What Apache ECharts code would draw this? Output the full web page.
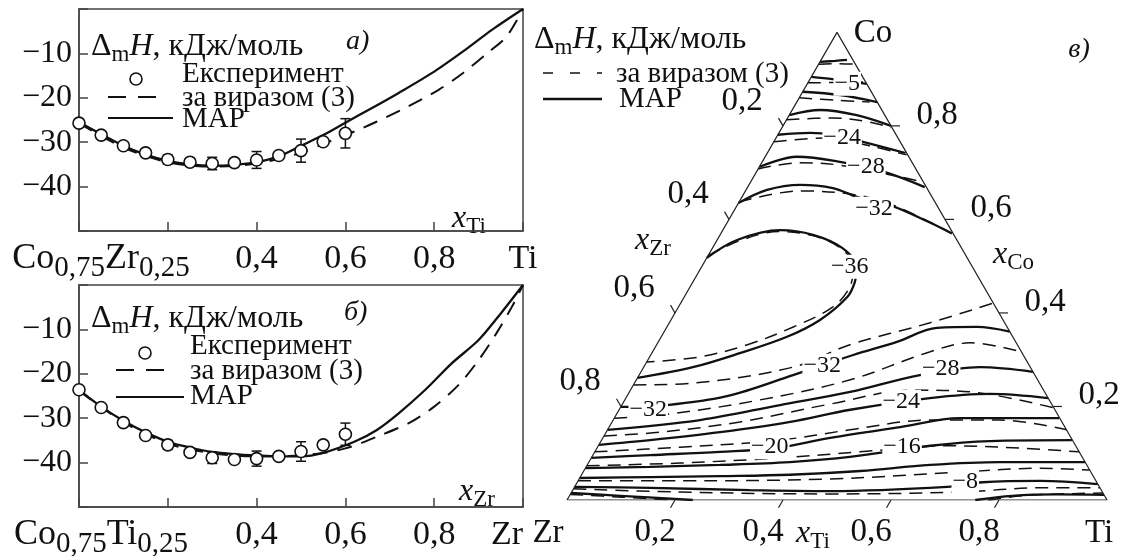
<!DOCTYPE html>
<html><head><meta charset="utf-8">
<script src="https://cdn.jsdelivr.net/npm/echarts@6/dist/echarts.min.js"></script>
<style>html,body{margin:0;padding:0;background:#fff}#c{width:1127px;height:556px}</style>
</head><body><div id="c"></div>
<script>
// ===== Panel a) Co0,75Zr0,25 – Ti =====
const xTicks = [0, 0.2, 0.4, 0.6, 0.8, 1];
const aXLabels = ['Co0,75Zr0,25', '', '0,4', '0,6', '0,8', 'Ti'];
const bXLabels = ['Co0,75Ti0,25', '', '0,4', '0,6', '0,8', 'Zr'];
const yTicks = [-10, -20, -30, -40];

const aExpX = [0, 0.05, 0.1, 0.15, 0.2, 0.25, 0.3, 0.35, 0.4, 0.45, 0.5, 0.55, 0.6];
const aExpY = [-25.7, -28.4, -30.8, -32.4, -33.9, -34.5, -34.8, -34.6, -34.0, -33.0, -31.9, -29.9, -28.0];
const aExpErr = [0, 0, 0, 0, 1.0, 0, 1.4, 0, 1.9, 0, 2.6, 0, 3.3];
const aMapX = [0, 0.05, 0.1, 0.15, 0.2, 0.25, 0.3, 0.35, 0.4, 0.45, 0.5, 0.55, 0.6, 0.66, 0.72, 0.8, 0.87, 0.93, 1];
const aMapY = [-25.5, -28.2, -30.8, -32.8, -34.2, -35.0, -35.3, -35.1, -34.5, -33.2, -30.8, -28.4, -25.6, -22.3, -18.9, -14.1, -9.2, -4.7, 0];
const aEqX = [0, 0.1, 0.2, 0.3, 0.4, 0.5, 0.55, 0.62, 0.67, 0.74, 0.81, 0.865, 0.92, 0.963, 1];
const aEqY = [-25.7, -31.2, -34.5, -35.5, -34.8, -32.4, -30.4, -27.6, -25.4, -22.0, -18.2, -14.4, -9.9, -6.2, 0];

// ===== Panel б) Co0,75Ti0,25 – Zr =====
const bExpX = [0, 0.05, 0.1, 0.15, 0.2, 0.25, 0.3, 0.35, 0.4, 0.45, 0.5, 0.55, 0.6];
const bExpY = [-23.6, -27.6, -31.0, -33.9, -36.0, -37.7, -38.9, -39.3, -39.1, -38.6, -37.5, -36.0, -33.6];
const bExpErr = [0, 0, 0, 0, 1.0, 0, 1.3, 0, 1.7, 0, 2.2, 0, 2.5];
const bMapX = [0, 0.05, 0.1, 0.15, 0.2, 0.25, 0.3, 0.35, 0.4, 0.45, 0.5, 0.55, 0.62, 0.67, 0.72, 0.78, 0.84, 0.9, 0.95, 1];
const bMapY = [-23.6, -27.4, -30.6, -33.2, -35.3, -36.6, -37.6, -38.1, -38.4, -38.6, -38.6, -37.8, -35.3, -32.7, -28.9, -23.6, -17.6, -12.4, -6.4, 0];
const bEqX = [0, 0.1, 0.2, 0.3, 0.4, 0.5, 0.6, 0.68, 0.745, 0.8, 0.855, 0.9, 0.94, 0.975, 1];
const bEqY = [-23.8, -30.9, -35.7, -37.9, -38.6, -38.4, -36.8, -33.8, -31.0, -27.4, -22.5, -16.9, -10.9, -4.9, 0];

// ===== Panel в) ternary Co–Zr–Ti; points are [xTi, xCo] =====
const ternCorners = [[0, 0], [1, 0], [0, 1], [0, 0]];
const ternTicks = [0.2, 0.4, 0.6, 0.8];
const ternTickLabels = ['0,2', '0,4', '0,6', '0,8'];
// Co-rich region
const mapU1 = [[0, 0.937], [0.027, 0.939], [0.048, 0.941]];
const eqU1 = [[0, 0.932], [0.035, 0.933], [0.066, 0.932]];
const mapU2 = [[0, 0.905], [0.042, 0.900], [0.110, 0.890]];
const eqU2 = [[0, 0.892], [0.05, 0.893], [0.105, 0.894]];
const mapU3 = [[0, 0.873], [0.073, 0.866], [0.149, 0.851]];
const eqU3 = [[0, 0.860], [0.07, 0.855], [0.135, 0.851]];
const mapU4 = [[0, 0.823], [0.052, 0.834], [0.125, 0.823], [0.2, 0.8]];
const eqU4 = [[0, 0.813], [0.084, 0.817], [0.157, 0.808], [0.202, 0.796]];
const mapU24 = [[0, 0.781], [0.058, 0.785], [0.102, 0.781], [0.165, 0.766], [0.256, 0.742]];
const eqU24 = [[0, 0.766], [0.094, 0.774], [0.183, 0.757], [0.26, 0.738]];
const mapU28 = [[0, 0.712], [0.059, 0.734], [0.144, 0.723], [0.235, 0.702], [0.328, 0.669]];
const eqU28 = [[0, 0.708], [0.071, 0.721], [0.147, 0.716], [0.271, 0.691], [0.318, 0.68]];
const mapU32 = [[0, 0.635], [0.039, 0.663], [0.095, 0.674], [0.159, 0.667], [0.213, 0.648], [0.29, 0.628], [0.369, 0.596], [0.428, 0.57]];
const eqU32 = [[0, 0.637], [0.101, 0.661], [0.211, 0.652], [0.298, 0.627], [0.425, 0.571]];
const map36 = [[0, 0.518], [0.037, 0.556], [0.106, 0.577], [0.172, 0.567], [0.24, 0.539], [0.288, 0.498], [0.3, 0.466], [0.302, 0.434], [0.276, 0.385], [0.233, 0.349], [0.163, 0.314], [0.091, 0.284], [0, 0.261]];
const eq36 = [[0, 0.522], [0.04, 0.553], [0.106, 0.574], [0.17, 0.566], [0.235, 0.54], [0.28, 0.5], [0.296, 0.456], [0.286, 0.413], [0.234, 0.37], [0.168, 0.332], [0.093, 0.306], [0, 0.295]];
// Co-poor region
const mapL32 = [[0, 0.199], [0.084, 0.203], [0.185, 0.222], [0.285, 0.267], [0.375, 0.31], [0.442, 0.338], [0.501, 0.368], [0.574, 0.37], [0.64, 0.36]];
const eqL32 = [[0, 0.246], [0.108, 0.25], [0.276, 0.284], [0.358, 0.332], [0.483, 0.379], [0.579, 0.421]];
const mapL28 = [[0, 0.15], [0.161, 0.171], [0.293, 0.203], [0.409, 0.231], [0.52, 0.267], [0.623, 0.284], [0.726, 0.274]];
const eqL28 = [[0, 0.175], [0.099, 0.184], [0.25, 0.214], [0.396, 0.257], [0.514, 0.317], [0.578, 0.336], [0.683, 0.317]];
const mapL24 = [[0, 0.118], [0.09, 0.128], [0.211, 0.145], [0.33, 0.167], [0.428, 0.193], [0.563, 0.218], [0.67, 0.227], [0.782, 0.218]];
const eqL24 = [[0, 0.137], [0.1, 0.145], [0.237, 0.167], [0.384, 0.205], [0.523, 0.235], [0.65, 0.229], [0.803, 0.197]];
const mapL20 = [[0, 0.09], [0.106, 0.096], [0.232, 0.103], [0.33, 0.111], [0.421, 0.133], [0.539, 0.156], [0.64, 0.175], [0.824, 0.175]];
const eqL20 = [[0, 0.103], [0.153, 0.113], [0.33, 0.128], [0.449, 0.15], [0.587, 0.171], [0.716, 0.171], [0.85, 0.15]];
const mapL16 = [[0, 0.068], [0.118, 0.071], [0.246, 0.075], [0.372, 0.081], [0.478, 0.092], [0.615, 0.116], [0.72, 0.126], [0.871, 0.128]];
const eqL16 = [[0, 0.073], [0.17, 0.079], [0.35, 0.09], [0.491, 0.103], [0.652, 0.116], [0.783, 0.111], [0.897, 0.103]];
const mapL12 = [[0, 0.047], [0.129, 0.049], [0.258, 0.051], [0.386, 0.054], [0.512, 0.062], [0.635, 0.075], [0.761, 0.081], [0.919, 0.081]];
const eqL12 = [[0, 0.041], [0.189, 0.041], [0.465, 0.045], [0.703, 0.06], [0.842, 0.068], [0.936, 0.064]];
const mapL8 = [[0, 0.028], [0.141, 0.026], [0.328, 0.021], [0.477, 0.019], [0.69, 0.028], [0.751, 0.038], [0.856, 0.041], [0.966, 0.034]];
const eqL8 = [[0, 0.024], [0.2, 0.017], [0.48, 0.013], [0.719, 0.017], [0.863, 0.026], [0.974, 0.026]];
const mapL4a = [[0, 0.015], [0.094, 0.009], [0.233, 0]];
const mapL4b = [[0.756, 0], [0.82, 0.009], [0.9, 0.012], [0.989, 0.011]];
const eqL4a = [[0, 0.012], [0.1, 0.006], [0.2, 0]];
const eqL4b = [[0.78, 0], [0.85, 0.01], [0.985, 0.015]];
const contourLabels = [
  ['−5', 0.074, 0.890], ['−24', 0.122, 0.775], ['−28', 0.197, 0.713], ['−32', 0.257, 0.623],
  ['−36', 0.274, 0.499], ['−32', 0.329, 0.287], ['−32', 0.054, 0.193], ['−28', 0.552, 0.280],
  ['−24', 0.514, 0.210], ['−20', 0.319, 0.113], ['−16', 0.564, 0.113], ['−8', 0.718, 0.039]
];

// ===== build =====
const FONT = '"Liberation Serif", "Times New Roman", serif';
const INK = '#111';
const S3 = Math.sqrt(3) / 2;
function tern(p) { return [p[0] + p[1] / 2, p[1] * S3]; }
function zip(xs, ys) { return xs.map((x, i) => [x, ys[i]]); }
function richX(t, first) {
  if (!t) return '';
  if (/\d,\d+/.test(t) && /[A-Z]/.test(t)) {
    return '{p| }' + t.replace(/([A-Z][a-z]?)(\d,\d+)/g, '{m|$1}{s|$2}');
  }
  return '{n|' + t + '}';
}
const axisRich = {
  m: { fontSize: 36, fontFamily: FONT, color: INK, lineHeight: 44 },
  n: { fontSize: 34, fontFamily: FONT, color: INK, lineHeight: 44 },
  s: { fontSize: 29, fontFamily: FONT, color: INK, lineHeight: 26, padding: [18, 0, 0, 0] },
  p: { width: 44, fontSize: 10 }
};
function xAxisCfg(gi, labels, alignMax) {
  return {
    gridIndex: gi, type: 'value', min: 0, max: 1, interval: 0.2,
    axisLine: { show: true, onZero: false, lineStyle: { color: '#444', width: 1.5 } },
    axisTick: { show: true, inside: true, length: 9, lineStyle: { color: '#444', width: 1.5 } },
    splitLine: { show: false },
    axisLabel: {
      margin: 6, alignMaxLabel: alignMax, hideOverlap: false,
      formatter: v => { const i = xTicks.findIndex(t => Math.abs(t - v) < 1e-6); return i < 0 ? '' : richX(labels[i]); },
      rich: axisRich
    }
  };
}
function yAxisCfg(gi) {
  return {
    gridIndex: gi, type: 'value', min: -50, max: 0, interval: 10,
    axisLine: { show: true, onZero: false, lineStyle: { color: '#444', width: 1.5 } },
    axisTick: { show: true, inside: true, length: 9, lineStyle: { color: '#444', width: 1.5 } },
    splitLine: { show: false },
    axisLabel: {
      margin: 7, fontSize: 32, fontFamily: FONT, color: INK,
      formatter: v => yTicks.includes(v) ? '−' + Math.abs(v) : ''
    }
  };
}
function curve(gi, data, dashed) {
  return {
    type: 'line', xAxisIndex: gi, yAxisIndex: gi, data, smooth: 0.3, symbol: 'none', silent: true, z: 3,
    lineStyle: dashed ? { color: INK, width: 2, type: [15, 10] } : { color: INK, width: 2.3 }
  };
}
function errSeries(gi, xs, ys, es) {
  return {
    type: 'custom', xAxisIndex: gi, yAxisIndex: gi, silent: true, z: 4,
    encode: { x: 0, y: 1 },
    data: xs.map((x, i) => [x, ys[i], es[i]]).filter(d => d[2] > 0),
    renderItem(params, api) {
      const x = api.value(0), y = api.value(1), e = api.value(2);
      const t = api.coord([x, y + e]), b = api.coord([x, y - e]);
      const w = 5, st = { stroke: INK, lineWidth: 1.5 };
      return { type: 'group', children: [
        { type: 'line', shape: { x1: t[0], y1: t[1], x2: b[0], y2: b[1] }, style: st },
        { type: 'line', shape: { x1: t[0] - w, y1: t[1], x2: t[0] + w, y2: t[1] }, style: st },
        { type: 'line', shape: { x1: b[0] - w, y1: b[1], x2: b[0] + w, y2: b[1] }, style: st }
      ] };
    }
  };
}
function expSeries(gi, xs, ys) {
  return {
    type: 'scatter', xAxisIndex: gi, yAxisIndex: gi, data: zip(xs, ys), symbol: 'circle', symbolSize: 12, silent: true, z: 6,
    itemStyle: { color: '#fff', borderColor: INK, borderWidth: 1.6, opacity: 1 }
  };
}
function contour(pts, dashed) {
  return {
    type: 'line', xAxisIndex: 2, yAxisIndex: 2, data: pts.map(tern), smooth: 0.35, symbol: 'none', silent: true,
    z: dashed ? 3 : 4,
    lineStyle: dashed ? { color: INK, width: 1.5, type: [13, 8] } : { color: INK, width: 2.3 }
  };
}
const mapSet = [mapU1, mapU2, mapU3, mapU4, mapU24, mapU28, mapU32, map36, mapL32, mapL28, mapL24, mapL20, mapL16, mapL12, mapL8, mapL4a, mapL4b];
const eqSet = [eqU1, eqU2, eqU3, eqU4, eqU24, eqU28, eqU32, eq36, eqL32, eqL28, eqL24, eqL20, eqL16, eqL12, eqL8, eqL4a, eqL4b];

const tickSeries = {
  type: 'custom', xAxisIndex: 2, yAxisIndex: 2, silent: true, z: 5, encode: { x: 0, y: 1 },
  data: ternTicks.map(v => [v, 0]),
  renderItem(params, api) {
    const v = api.value(0), lab = ternTickLabels[params.dataIndex];
    const pL = api.coord(tern([0, 1 - v]));
    const pR = api.coord(tern([1 - v, v]));
    const pB = api.coord(tern([v, 0]));
    const L = 9, st = { stroke: '#222', lineWidth: 1.2 };
    const font = '33px ' + FONT;
    const tx = (x, y) => ({ type: 'text', style: { text: lab, x, y, font, fill: INK, textAlign: 'center', textVerticalAlign: 'middle' } });
    return { type: 'group', children: [
      { type: 'line', shape: { x1: pL[0], y1: pL[1], x2: pL[0] - 0.5 * L, y2: pL[1] - S3 * L }, style: st },
      { type: 'line', shape: { x1: pR[0], y1: pR[1], x2: pR[0] + L, y2: pR[1] }, style: st },
      { type: 'line', shape: { x1: pB[0], y1: pB[1], x2: pB[0] - 0.5 * L, y2: pB[1] + S3 * L }, style: st },
      tx(pL[0] - 41, pL[1] - 25), tx(pR[0] + 46, pR[1] - 11), tx(pB[0] - 20, pB[1] + 32)
    ] };
  }
};

const gRich = {
  d: { fontSize: 32, fontFamily: FONT, fill: INK, lineHeight: 38 },
  i: { fontSize: 32, fontFamily: FONT, fontStyle: 'italic', fill: INK, lineHeight: 38 },
  s: { fontSize: 23, fontFamily: FONT, fill: INK, lineHeight: 22, padding: [16, 0, 0, 0] }
};
function gText(x, y, text, size, opt) {
  opt = opt || {};
  const style = { text, font: (opt.italic ? 'italic ' : '') + size + 'px ' + FONT, fill: INK,
    textAlign: opt.align || 'left', textVerticalAlign: 'middle' };
  if (opt.rich) style.rich = gRich;
  return { type: 'text', x, y, silent: true, style };
}
function gLine(x1, y1, x2, y2, dash, w) {
  return { type: 'line', silent: true, shape: { x1, y1, x2, y2 },
    style: { stroke: INK, lineWidth: w || 2.2, lineDash: dash || null } };
}
const HEAD = '{d|Δ}{s|m}{i|H}{d|, кДж/моль}';
const graphic = [
  // panel a legend
  gText(91, 47, HEAD, 32, { rich: true }),
  gText(346, 42, 'а)', 28, { italic: true }),
  { type: 'circle', silent: true, shape: { cx: 136, cy: 79, r: 6 }, style: { fill: '#fff', stroke: INK, lineWidth: 1.6 } },
  gText(182, 74, 'Експеримент', 29),
  gLine(108, 97, 157, 97, [18, 12], 2),
  gText(182, 98, 'за виразом (3)', 29),
  gLine(108, 118, 173, 118),
  gText(182, 119, 'МАР', 29),
  gText(452, 219, '{i|x}{s|Ti}', 30, { rich: true }),
  // panel б legend
  gText(91, 319, HEAD, 32, { rich: true }),
  gText(344, 313, 'б)', 28, { italic: true }),
  { type: 'circle', silent: true, shape: { cx: 145, cy: 353, r: 6 }, style: { fill: '#fff', stroke: INK, lineWidth: 1.6 } },
  gText(190, 346, 'Експеримент', 29),
  gLine(116, 370, 166, 370, [18, 12], 2),
  gText(190, 371, 'за виразом (3)', 29),
  gLine(116, 397, 184, 397),
  gText(190, 396, 'МАР', 29),
  gText(459, 492, '{i|x}{s|Zr}', 30, { rich: true }),
  // panel в legend
  gText(534, 40, HEAD, 32, { rich: true }),
  gLine(543, 73, 602, 73, [10, 17], 1.6),
  gText(616, 74, 'за виразом (3)', 29),
  gLine(543, 99, 602, 99, null, 2.5),
  gText(619, 99, 'МАР', 29),
  gText(1079, 50, 'в)', 28, { italic: true, align: 'center' }),
  gText(873, 33, 'Co', 33, { align: 'center' }),
  gText(1099, 533, 'Ti', 33, { align: 'center' }),
  gText(548, 533, 'Zr', 33, { align: 'center' }),
  gText(635, 241, '{i|x}{s|Zr}', 30, { rich: true }),
  gText(993, 255, '{i|x}{s|Co}', 30, { rich: true }),
  gText(796, 534, '{i|x}{s|Ti}', 30, { rich: true })
];

const option = {
  animation: false,
  backgroundColor: '#fff',
  grid: [
    { left: 79, top: 9, width: 444, height: 222, show: true, borderColor: '#444', borderWidth: 1.5, backgroundColor: 'transparent', containLabel: false, outerBoundsMode: 'none' },
    { left: 79, top: 285, width: 444, height: 222, show: true, borderColor: '#444', borderWidth: 1.5, backgroundColor: 'transparent', containLabel: false, outerBoundsMode: 'none' },
    { left: 567, top: 500 - 540 * S3, width: 540, height: 540 * S3, containLabel: false, outerBoundsMode: 'none' }
  ],
  xAxis: [xAxisCfg(0, aXLabels, 'center'), xAxisCfg(1, bXLabels, 'right'),
    { gridIndex: 2, type: 'value', min: 0, max: 1, show: false }],
  yAxis: [yAxisCfg(0), yAxisCfg(1),
    { gridIndex: 2, type: 'value', min: 0, max: S3, show: false }],
  series: [
    curve(0, zip(aMapX, aMapY), false), curve(0, zip(aEqX, aEqY), true),
    errSeries(0, aExpX, aExpY, aExpErr), expSeries(0, aExpX, aExpY),
    curve(1, zip(bMapX, bMapY), false), curve(1, zip(bEqX, bEqY), true),
    errSeries(1, bExpX, bExpY, bExpErr), expSeries(1, bExpX, bExpY),
    { type: 'line', xAxisIndex: 2, yAxisIndex: 2, data: ternCorners.map(tern), symbol: 'none', silent: true, z: 5,
      lineStyle: { color: '#222', width: 1.2 } },
    tickSeries,
    ...mapSet.map(p => contour(p, false)),
    ...eqSet.map(p => contour(p, true)),
    { type: 'scatter', xAxisIndex: 2, yAxisIndex: 2, silent: true, z: 8, symbolSize: 1,
      itemStyle: { color: '#fff', opacity: 1 },
      data: contourLabels.map(d => ({ name: d[0], value: tern([d[1], d[2]]) })),
      label: { show: true, position: 'inside', formatter: '{b}', fontSize: 24, fontFamily: FONT, color: INK,
        backgroundColor: '#fff', padding: [0, 1], opacity: 1 } }
  ],
  graphic
};
const chart = echarts.init(document.getElementById('c'));
chart.setOption(option);
</script>
</body></html>
